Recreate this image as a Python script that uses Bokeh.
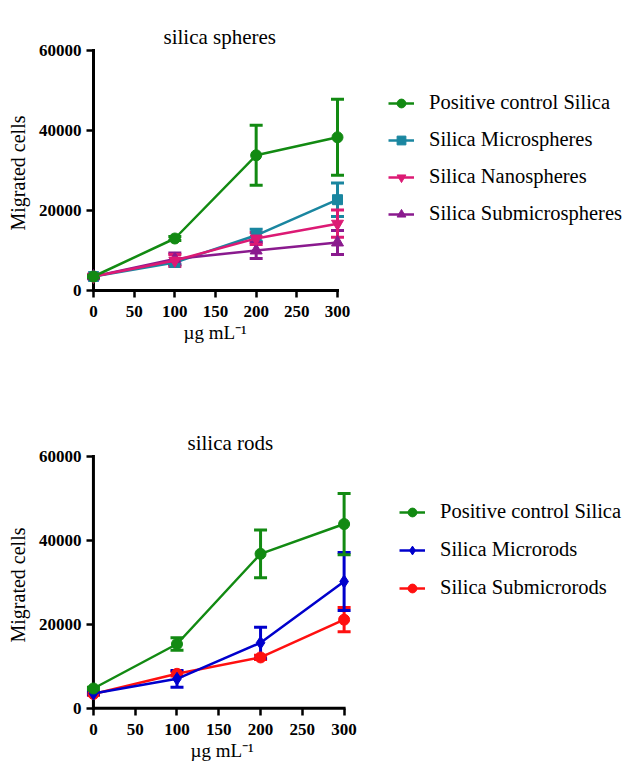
from bokeh.plotting import figure
from bokeh.models import (ColumnDataSource, Whisker, TeeHead, Legend, LegendItem,
                          FixedTicker, Range1d, Title, LinearAxis)
from bokeh.layouts import column
from bokeh.embed import file_html
from bokeh.resources import INLINE

# ---------------- data ----------------
dose = [0, 100, 200, 300]
x_ticks = [0, 50, 100, 150, 200, 250, 300]
y_ticks = [0, 20000, 40000, 60000]

sph_labels = ["Positive control Silica", "Silica Microspheres",
              "Silica Nanospheres", "Silica Submicrospheres"]
sph_pos = [3500, 13000, 33800, 38300]
sph_pos_err = [300, 500, 7500, 9500]
sph_micro = [3500, 7000, 13800, 22700]
sph_micro_err = [300, 500, 1500, 4200]
sph_nano = [3500, 7500, 13000, 16700]
sph_nano_err = [300, 1500, 1500, 3400]
sph_sub = [3500, 7900, 10000, 12000]
sph_sub_err = [300, 1500, 2000, 3000]

rod_labels = ["Positive control Silica", "Silica Microrods", "Silica Submicrorods"]
rod_pos = [4700, 15300, 36800, 43900]
rod_pos_err = [300, 1500, 5700, 7300]
rod_micro = [3500, 7000, 15600, 30200]
rod_micro_err = [300, 2000, 3700, 6900]
rod_sub = [3400, 8200, 12100, 21100]
rod_sub_err = [300, 500, 500, 2900]

FONT = "Liberation Serif"
GREEN = "#128a12"
TEAL = "#1a86a0"
PINK = "#dc1a74"
PURPLE = "#8a1a8e"
BLUE = "#0000cc"
RED = "#ff1010"
XLABEL = "µg mL⁻¹"
YLABEL = "Migrated cells"


def spacer(gap):
    # an empty, invisible axis that only reserves vertical space
    return LinearAxis(ticker=FixedTicker(ticks=[]), axis_line_color=None,
                      major_tick_line_color=None, minor_tick_line_color=None,
                      major_tick_in=0, major_tick_out=gap, minor_tick_out=0,
                      major_label_standoff=0)


def make_fig(title, t_off, t_gap, x_off, x_gap, width, height, xr, yr, bl, bt, bb):
    p = figure(width=width, height=height, output_backend="svg", toolbar_location=None,
               x_range=Range1d(*xr), y_range=Range1d(*yr),
               min_border_left=bl, min_border_right=0, min_border_top=bt,
               min_border_bottom=bb)
    xa = p.xaxis[0]
    ya = p.yaxis[0]
    p.title.text = title
    p.title.text_font = FONT
    p.title.text_font_size = "21px"
    p.title.text_font_style = "normal"
    p.title.text_color = "black"
    p.title.align = "left"
    p.title.offset = t_off
    p.title.standoff = 0
    p.outline_line_color = None
    p.grid.grid_line_color = None
    for ax in (xa, ya):
        ax.axis_line_color = None
        ax.major_tick_line_color = "black"
        ax.major_tick_line_width = 2.5
        ax.major_tick_in = 7
        ax.major_tick_out = 0
        ax.minor_tick_line_color = None
        ax.major_label_text_font = FONT
        ax.major_label_text_font_style = "bold"
        ax.major_label_text_font_size = "17px"
        ax.major_label_text_color = "black"
        ax.axis_label_text_font = FONT
        ax.axis_label_text_font_style = "normal"
        ax.axis_label_text_color = "black"
    xa.ticker = FixedTicker(ticks=x_ticks)
    ya.ticker = FixedTicker(ticks=y_ticks)
    xa.major_label_standoff = 8
    ya.major_label_standoff = 5
    ya.axis_label = YLABEL
    ya.axis_label_text_font_size = "20px"
    ya.axis_label_standoff = 7
    # space between the frame and the title
    p.add_layout(spacer(t_gap), "above")
    # x-axis label, placed under the 0-300 span
    p.add_layout(spacer(x_gap), "below")
    p.add_layout(Title(text=XLABEL, align="left", offset=x_off, standoff=0,
                       text_font=FONT, text_font_size="19px",
                       text_font_style="normal", text_color="black"), "below")
    # axis lines drawn from the tick extents
    p.line([x_ticks[0], x_ticks[-1]], [y_ticks[0], y_ticks[0]], line_color="black",
           line_width=3, line_cap="square")
    p.line([x_ticks[0], x_ticks[0]], [y_ticks[0], y_ticks[-1]], line_color="black",
           line_width=3, line_cap="square")
    return p


def add_series(p, y, err, color, marker, size):
    src = ColumnDataSource(dict(x=dose, y=y,
                                up=[a + b for a, b in zip(y, err)],
                                lo=[a - b for a, b in zip(y, err)]))
    w = Whisker(base="x", upper="up", lower="lo", source=src, line_color=color,
                line_width=3,
                upper_head=TeeHead(size=13, line_color=color, line_width=3),
                lower_head=TeeHead(size=13, line_color=color, line_width=3))
    p.add_layout(w)
    l = p.line("x", "y", source=src, line_color=color, line_width=2.5)
    s = p.scatter("x", "y", source=src, marker=marker, size=size, fill_color=color,
                  line_color=color)
    return [l, s]


def add_legend(p, items, loc, spacing):
    lg = Legend(items=items, location=loc, orientation="vertical",
                label_text_font=FONT, label_text_font_size="20.5px",
                label_text_color="black", glyph_width=26, glyph_height=22,
                label_height=22, label_standoff=15, spacing=spacing,
                padding=0, margin=0, border_line_color=None,
                background_fill_alpha=0)
    p.add_layout(lg)


W = 625

# ---------------- top: spheres ----------------
sx = 244 / 300.0
sy = 240 / 60000.0
p1 = make_fig("silica spheres", 77, 21, 97, 4, W, 373,
              (-7 / sx, (W - 93) / sx), (-7 / sy, 60000 + 2 / sy),
              86, 48, 76)
r_micro = add_series(p1, sph_micro, sph_micro_err, TEAL, "square", 10)
r_sub = add_series(p1, sph_sub, sph_sub_err, PURPLE, "triangle", 12)
r_nano = add_series(p1, sph_nano, sph_nano_err, PINK, "inverted_triangle", 12)
r_pos = add_series(p1, sph_pos, sph_pos_err, GREEN, "circle", 11)
add_legend(p1, [LegendItem(label=sph_labels[0], renderers=r_pos),
                LegendItem(label=sph_labels[1], renderers=r_micro),
                LegendItem(label=sph_labels[2], renderers=r_nano),
                LegendItem(label=sph_labels[3], renderers=r_sub)],
           (302, 72), 14)

# ---------------- bottom: rods ----------------
sx2 = 253 / 300.0
sy2 = 251.7 / 60000.0
p2 = make_fig("silica rods", 101, 27, 104, 5, W, 400,
              (-7 / sx2, (W - 88) / sx2), (-7.3 / sy2, 60000 + 2 / sy2),
              81, 81, 58)
q_sub = add_series(p2, rod_sub, rod_sub_err, RED, "circle", 11)
q_micro = add_series(p2, rod_micro, rod_micro_err, BLUE, "diamond", 13)
q_pos = add_series(p2, rod_pos, rod_pos_err, GREEN, "circle", 11)
add_legend(p2, [LegendItem(label=rod_labels[0], renderers=q_pos),
                LegendItem(label=rod_labels[1], renderers=q_micro),
                LegendItem(label=rod_labels[2], renderers=q_sub)],
           (313, 116), 15)

layout = column(p1, p2)
open("out.html", "w").write(file_html(layout, INLINE))
